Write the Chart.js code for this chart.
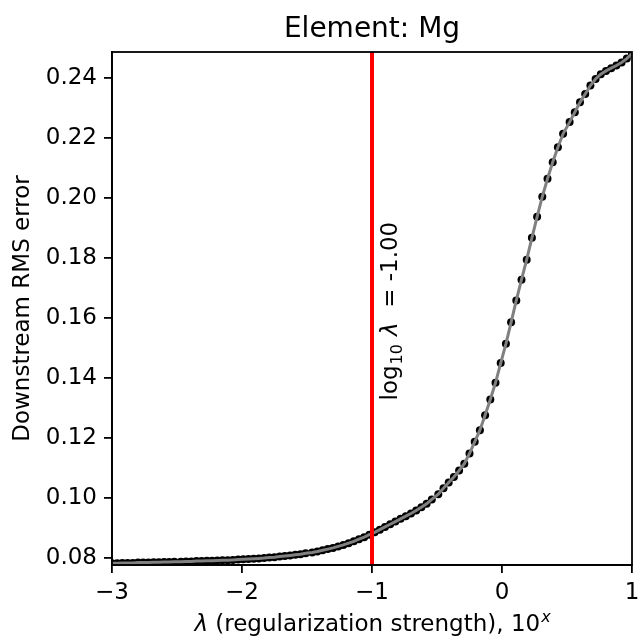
<!DOCTYPE html>
<html lang="en">
<head>
    <meta charset="UTF-8">
    <title>Element: Mg</title>
    <script src="https://cdn.jsdelivr.net/npm/chart.js"></script>
    <style>
        body { margin: 0; background: #fff; }
        .container { width: 639px; height: 637px; position: relative; }
    </style>
</head>
<body>
    <div class="container">
        <canvas id="rmsChart"></canvas>
    </div>

    <script>
        // log10(lambda) grid
        const lambdaExp = [
            -3.00, -2.96, -2.92, -2.88, -2.84, -2.80, -2.76, -2.72, -2.68, -2.64,
            -2.60, -2.56, -2.52, -2.47, -2.43, -2.39, -2.35, -2.31, -2.27, -2.23,
            -2.19, -2.15, -2.11, -2.07, -2.03, -1.99, -1.95, -1.91, -1.87, -1.83,
            -1.79, -1.75, -1.71, -1.67, -1.63, -1.59, -1.55, -1.51, -1.46, -1.42,
            -1.38, -1.34, -1.30, -1.26, -1.22, -1.18, -1.14, -1.10, -1.06, -1.02,
            -0.98, -0.94, -0.90, -0.86, -0.82, -0.78, -0.74, -0.70, -0.66, -0.62,
            -0.58, -0.54, -0.49, -0.45, -0.41, -0.37, -0.33, -0.29, -0.25, -0.21,
            -0.17, -0.13, -0.09, -0.05, -0.01, 0.03, 0.07, 0.11, 0.15, 0.19,
            0.23, 0.27, 0.31, 0.35, 0.39, 0.43, 0.47, 0.52, 0.56, 0.60,
            0.64, 0.68, 0.72, 0.76, 0.80, 0.84, 0.88, 0.92, 0.96, 1.00
        ];
        const rmsError = [
            0.0782, 0.0782, 0.0783, 0.0783, 0.0783, 0.0784, 0.0784, 0.0784, 0.0785, 0.0785,
            0.0786, 0.0786, 0.0787, 0.0787, 0.0788, 0.0788, 0.0789, 0.0789, 0.0790, 0.0790,
            0.0791, 0.0792, 0.0792, 0.0793, 0.0794, 0.0795, 0.0796, 0.0797, 0.0798, 0.0799,
            0.0801, 0.0802, 0.0804, 0.0806, 0.0808, 0.0810, 0.0812, 0.0815, 0.0818, 0.0821,
            0.0825, 0.0829, 0.0833, 0.0838, 0.0843, 0.0849, 0.0855, 0.0862, 0.0869, 0.0877,
            0.0885, 0.0894, 0.0903, 0.0912, 0.0921, 0.0930, 0.0939, 0.0948, 0.0958, 0.0969,
            0.0980, 0.0995, 0.1012, 0.1032, 0.1051, 0.1070, 0.1091, 0.1114, 0.1148, 0.1187,
            0.1226, 0.1276, 0.1328, 0.1384, 0.1450, 0.1514, 0.1586, 0.1659, 0.1728, 0.1795,
            0.1868, 0.1938, 0.2005, 0.2065, 0.2120, 0.2170, 0.2215, 0.2254, 0.2287, 0.2320,
            0.2348, 0.2376, 0.2398, 0.2414, 0.2425, 0.2434, 0.2443, 0.2453, 0.2466, 0.2483
        ];
        const chosenLogLambda = -1.00;

        const xTicks = [-3, -2, -1, 0, 1];
        const xTickLabels = ['\u22123', '\u22122', '\u22121', '0', '1'];
        const yTicks = [0.08, 0.10, 0.12, 0.14, 0.16, 0.18, 0.20, 0.22, 0.24];
        const yTickLabels = ['0.08', '0.10', '0.12', '0.14', '0.16', '0.18', '0.20', '0.22', '0.24'];
        const xMin = -3, xMax = 1;
        const yMin = 0.0776, yMax = 0.2488;

        const FONT = "'DejaVu Sans', sans-serif";
        const points = lambdaExp.map((x, i) => ({ x: x, y: rmsError[i] }));

        // title, axis labels, frame and the vertical-line annotation
        const textPlugin = {
            id: 'textPlugin',
            afterDatasetsDraw(chart) {
                const ctx = chart.ctx;
                const xs = chart.scales.x, ys = chart.scales.y;
                const px = xs.getPixelForValue(chosenLogLambda) + 25;
                const py = ys.getPixelForValue(0.1325);
                ctx.save();
                ctx.translate(px, py);
                ctx.rotate(-Math.PI / 2);
                ctx.fillStyle = '#000';
                ctx.textBaseline = 'alphabetic';
                ctx.textAlign = 'left';
                let cx = 0;
                ctx.font = '23px ' + FONT;
                ctx.fillText('log', cx, 0);
                cx += ctx.measureText('log').width + 1;
                ctx.font = '16px ' + FONT;
                ctx.fillText('10', cx, 5);
                cx += ctx.measureText('10').width + 8;
                ctx.font = 'italic 23px ' + FONT;
                ctx.fillText('\u03bb', cx, 0);
                cx += ctx.measureText('\u03bb').width;
                ctx.font = '23px ' + FONT;
                ctx.fillText('  = ' + chosenLogLambda.toFixed(2), cx, 0);
                ctx.restore();
            },
            afterDraw(chart) {
                const ctx = chart.ctx;
                const a = chart.chartArea;
                const midX = (a.left + a.right) / 2;
                ctx.save();
                // frame
                ctx.strokeStyle = '#000';
                ctx.lineWidth = 1.8;
                ctx.strokeRect(a.left, a.top, a.right - a.left, a.bottom - a.top);

                ctx.fillStyle = '#000';
                ctx.textBaseline = 'alphabetic';
                // title
                ctx.font = '28px ' + FONT;
                ctx.textAlign = 'center';
                ctx.fillText('Element: Mg', midX, 37);

                // x label: italic lambda, plain text, superscript italic x
                const p1 = '\u03bb', p2 = ' (regularization strength), 10', p3 = 'x';
                ctx.font = 'italic 23px ' + FONT;
                const w1 = ctx.measureText(p1).width;
                ctx.font = '23px ' + FONT;
                const w2 = ctx.measureText(p2).width;
                ctx.font = 'italic 16px ' + FONT;
                const w3 = ctx.measureText(p3).width;
                let sx = midX - (w1 + w2 + w3) / 2;
                ctx.textAlign = 'left';
                ctx.font = 'italic 23px ' + FONT;
                ctx.fillText(p1, sx, 631);
                ctx.font = '23px ' + FONT;
                ctx.fillText(p2, sx + w1, 631);
                ctx.font = 'italic 16px ' + FONT;
                ctx.fillText(p3, sx + w1 + w2 + 1, 622);

                // y label
                ctx.translate(29, (a.top + a.bottom) / 2);
                ctx.rotate(-Math.PI / 2);
                ctx.textAlign = 'center';
                ctx.font = '23px ' + FONT;
                ctx.fillText('Downstream RMS error', 0, 0);
                ctx.restore();
            }
        };

        new Chart(document.getElementById('rmsChart').getContext('2d'), {
            type: 'line',
            data: {
                datasets: [
                    {
                        label: 'selected',
                        data: [{ x: chosenLogLambda, y: yMin }, { x: chosenLogLambda, y: yMax }],
                        borderColor: '#ff0000',
                        borderWidth: 4,
                        pointRadius: 0,
                        order: 0
                    },
                    {
                        label: 'curve',
                        data: points,
                        borderColor: '#808080',
                        borderWidth: 3,
                        pointRadius: 0,
                        tension: 0,
                        order: 1
                    },
                    {
                        label: 'points',
                        data: points,
                        showLine: false,
                        pointRadius: 4,
                        pointBackgroundColor: '#000',
                        pointBorderWidth: 0,
                        order: 2
                    }
                ]
            },
            options: {
                responsive: true,
                maintainAspectRatio: false,
                animation: false,
                layout: { padding: { top: 52, right: 7, left: 0, bottom: 0 } },
                plugins: {
                    legend: { display: false },
                    tooltip: { enabled: false },
                    title: { display: false }
                },
                scales: {
                    x: {
                        type: 'linear',
                        min: xMin,
                        max: xMax,
                        afterBuildTicks: s => { s.ticks = xTicks.map(v => ({ value: v })); },
                        afterFit: s => { s.height = 72; s.paddingLeft = 0; s.paddingRight = 0; },
                        ticks: {
                            callback: (v, i) => xTickLabels[i],
                            color: '#000',
                            font: { family: FONT, size: 23 },
                            padding: 6,
                            maxRotation: 0
                        },
                        grid: { drawOnChartArea: false, tickLength: 8, color: '#000', lineWidth: 1.8 },
                        border: { display: true, color: '#000', width: 1.8 }
                    },
                    y: {
                        type: 'linear',
                        min: yMin,
                        max: yMax,
                        afterBuildTicks: s => { s.ticks = yTicks.map(v => ({ value: v })); },
                        afterFit: s => { s.width = 112; s.paddingTop = 0; s.paddingBottom = 0; },
                        ticks: {
                            callback: (v, i) => yTickLabels[i],
                            color: '#000',
                            font: { family: FONT, size: 23 },
                            padding: 7
                        },
                        grid: { drawOnChartArea: false, tickLength: 8, color: '#000', lineWidth: 1.8 },
                        border: { display: true, color: '#000', width: 1.8 }
                    }
                }
            },
            plugins: [textPlugin]
        });
    </script>
</body>
</html>
